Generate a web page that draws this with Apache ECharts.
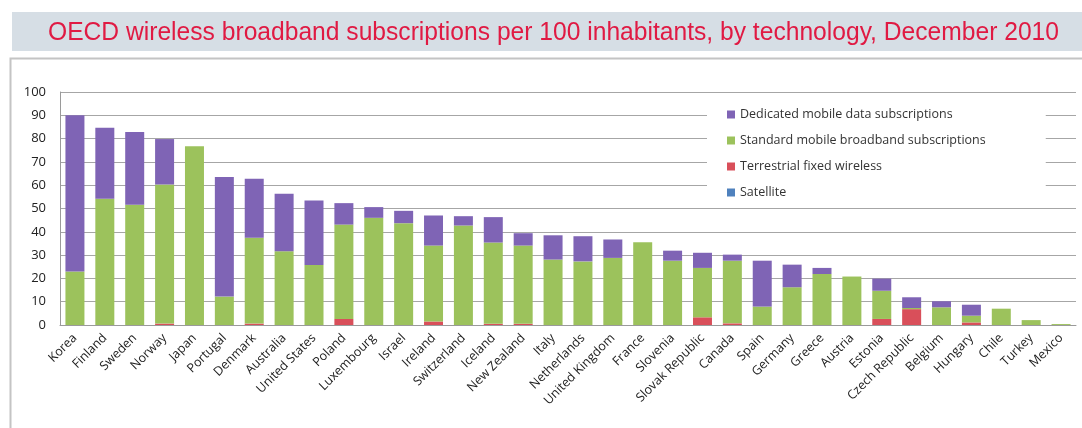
<!DOCTYPE html>
<html>
<head>
<meta charset="utf-8">
<script src="https://cdn.jsdelivr.net/npm/echarts@6/dist/echarts.min.js"></script>
<style>
  html, body { margin: 0; padding: 0; background: #ffffff; }
  #chart { width: 1082px; height: 428px; }
</style>
</head>
<body>
<div id="chart"></div>
<script>
// Wireless broadband subscriptions per 100 inhabitants, December 2010
const countries = ['Korea', 'Finland', 'Sweden', 'Norway', 'Japan', 'Portugal', 'Denmark', 'Australia',
  'United States', 'Poland', 'Luxembourg', 'Israel', 'Ireland', 'Switzerland', 'Iceland', 'New Zealand',
  'Italy', 'Netherlands', 'United Kingdom', 'France', 'Slovenia', 'Slovak Republic', 'Canada', 'Spain',
  'Germany', 'Greece', 'Austria', 'Estonia', 'Czech Republic', 'Belgium', 'Hungary', 'Chile', 'Turkey', 'Mexico'];

const satellite = [0, 0, 0, 0, 0, 0, 0, 0, 0, 0, 0, 0, 0, 0, 0, 0,
  0, 0, 0, 0, 0, 0, 0, 0, 0, 0, 0, 0, 0, 0, 0, 0, 0, 0];
const terrestrial = [0, 0, 0, 0.6, 0, 0, 0.6, 0, 0, 2.6, 0, 0, 1.5, 0, 0.5, 0.5,
  0, 0, 0, 0, 0, 3.3, 0.7, 0, 0, 0, 0, 2.6, 6.8, 0, 1.1, 0, 0, 0];
const standard = [23, 54.2, 51.6, 59.7, 76.7, 12.2, 36.8, 31.7, 25.8, 40.5, 46, 43.7, 32.6, 42.7, 34.9, 33.6,
  28.1, 27.3, 28.8, 35.5, 27.6, 21.2, 26.9, 7.9, 16.2, 21.9, 20.8, 12.1, 0.5, 7.6, 2.9, 7.0, 2.1, 0.4];
const dedicated = [67, 30.5, 31.2, 19.5, 0, 51.3, 25.4, 24.6, 27.6, 9.2, 4.6, 5.3, 12.9, 4.0, 10.9, 5.3,
  10.4, 10.8, 7.9, 0, 4.3, 6.5, 2.6, 19.7, 9.7, 2.6, 0, 5.2, 4.6, 2.6, 4.7, 0, 0, 0];

const yTicks = [0, 10, 20, 30, 40, 50, 60, 70, 80, 90, 100];

const titleText = 'OECD wireless broadband subscriptions per 100 inhabitants, by technology, December 2010';

// The headline uses a condensed face: squeeze the regular sans to fit its span.
const titleFont = 'normal 25px "Liberation Sans", sans-serif';
const titleSpan = 1011;
const measureCtx = document.createElement('canvas').getContext('2d');
measureCtx.font = titleFont;
const titleScale = Math.min(1, titleSpan / measureCtx.measureText(titleText).width);

const chart = echarts.init(document.getElementById('chart'), null, { renderer: 'canvas' });

function stacked(name, data, color) {
  return {
    name: name,
    type: 'bar',
    stack: 'total',
    data: data,
    barWidth: 19,
    itemStyle: { color: color },
    emphasis: { disabled: true }
  };
}

chart.setOption({
  animation: false,
  backgroundColor: '#ffffff',
  graphic: [
    { type: 'rect', z: -10, shape: { x: 12, y: 12, width: 1080, height: 39 },
      style: { fill: '#d6dee5' } },
    { type: 'rect', z: -10, shape: { x: 10.5, y: 58.5, width: 1090, height: 380 },
      style: { fill: 'none', stroke: '#c4c4c4', lineWidth: 2 } },
    { type: 'text', z: 10, x: 48, y: 21, scaleX: titleScale, scaleY: 1,
      style: { text: titleText, font: titleFont, fill: '#e01a43',
        textAlign: 'left', textVerticalAlign: 'top' } }
  ],
  legend: {
    data: ['Dedicated mobile data subscriptions', 'Standard mobile broadband subscriptions',
      'Terrestrial fixed wireless', 'Satellite'],
    orient: 'vertical',
    left: 707,
    top: 101,
    padding: [7, 60, 6, 20],
    backgroundColor: '#ffffff',
    itemWidth: 8,
    itemHeight: 8,
    itemGap: 13,
    icon: 'rect',
    textStyle: { color: '#333333', fontSize: 12.5, fontFamily: '"Open Sans", sans-serif' }
  },
  grid: { left: 60, right: 6, top: 92, bottom: 103, containLabel: false },
  xAxis: {
    type: 'category',
    data: countries,
    axisLine: { lineStyle: { color: '#9a9a9a' } },
    axisTick: { show: false },
    axisLabel: {
      interval: 0,
      rotate: 45,
      margin: 11,
      color: '#222222',
      fontSize: 12.5,
      fontFamily: '"Open Sans", sans-serif'
    }
  },
  yAxis: {
    type: 'value',
    min: yTicks[0],
    max: yTicks[yTicks.length - 1],
    interval: 10,
    axisLine: { show: true, lineStyle: { color: '#9a9a9a' } },
    axisTick: { show: false },
    axisLabel: { color: '#222222', fontSize: 13, margin: 14, fontFamily: '"Open Sans", sans-serif' },
    splitLine: { lineStyle: { color: '#a6a6a6', width: 1 } }
  },
  series: [
    stacked('Satellite', satellite, '#4f81bd'),
    stacked('Terrestrial fixed wireless', terrestrial, '#d94f5a'),
    stacked('Standard mobile broadband subscriptions', standard, '#9cc25c'),
    stacked('Dedicated mobile data subscriptions', dedicated, '#7f64b5')
  ]
});
</script>
</body>
</html>
